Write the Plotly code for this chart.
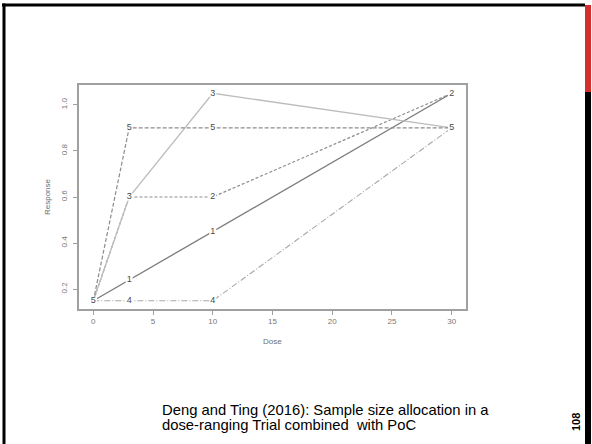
import plotly.graph_objects as go

# --------------------------------------------------
# Daten
# --------------------------------------------------
doses = [0, 3, 10, 30]
series_labels = ["1", "2", "3", "4", "5"]
resp_1 = [0.15, 0.24, 0.45, 1.05]
resp_2 = [0.15, 0.60, 0.60, 1.05]
resp_3 = [0.15, 0.60, 1.05, 0.90]
resp_4 = [0.15, 0.15, 0.15, 0.90]
resp_5 = [0.15, 0.90, 0.90, 0.90]
x_ticks = [0, 5, 10, 15, 20, 25, 30]
y_ticks = [0.2, 0.4, 0.6, 0.8, 1.0]
y_ticklabels = ["0.2", "0.4", "0.6", "0.8", "1.0"]
caption_lines = ["Deng and Ting (2016): Sample size allocation in a",
                 "dose-ranging Trial combined  with PoC"]
page_no = "108"

W, H = 592, 444
FONT = "Liberation Sans, Arial"

fig = go.Figure()

all_resp = [resp_1, resp_2, resp_3, resp_4, resp_5]
styles = [
    dict(color="#7a7a7a", width=1.3, dash="solid"),
    dict(color="#8c8c8c", width=1.2, dash="3px,2px"),
    dict(color="#bdbdbd", width=1.3, dash="solid"),
    dict(color="#a8a8a8", width=1.1, dash="6px,2px,1px,2px"),
    dict(color="#8c8c8c", width=1.2, dash="4px,2px"),
]

# Linien zuerst
for lab, resp, st in zip(series_labels, all_resp, styles):
    fig.add_trace(go.Scatter(
        x=doses, y=resp, mode="lines", name=lab,
        line=st, showlegend=False, hoverinfo="skip",
    ))

# Zahlen als Punktsymbole (wie matplot type="b")
for lab, resp in zip(series_labels, all_resp):
    fig.add_trace(go.Scatter(
        x=doses, y=resp, mode="markers+text",
        text=[lab] * len(doses), textposition="middle center",
        textfont=dict(family=FONT, size=9, color="#4a4a4a"),
        marker=dict(symbol="square", size=7, color="white", line=dict(width=0)),
        showlegend=False, hoverinfo="skip",
    ))

axis_common = dict(
    showline=True, linecolor="#a0a0a0", linewidth=1.5, mirror=True,
    ticks="outside", ticklen=4, tickcolor="#a0a0a0", tickwidth=1,
    showgrid=False, zeroline=False,
    tickfont=dict(family=FONT, size=8, color="#777777"),
)

fig.update_layout(
    width=W, height=H,
    margin=dict(l=0, r=0, t=0, b=0),
    paper_bgcolor="white", plot_bgcolor="white",
    xaxis=dict(
        range=[-1.2, 31.2], tickvals=x_ticks, domain=[79 / W, 466 / W],
        **axis_common,
    ),
    yaxis=dict(
        range=[0.114, 1.086], tickvals=y_ticks, ticktext=y_ticklabels,
        tickangle=-90, domain=[1 - 309 / H, 1 - 85 / H], ticklabelstandoff=3,
        **axis_common,
    ),
)

# Achsentitel
fig.add_annotation(text="Dose", x=272 / W, y=1 - 341 / H, xref="paper", yref="paper",
                   xanchor="center", yanchor="middle", showarrow=False,
                   font=dict(family=FONT, size=8, color="#6e6e6e"))
fig.add_annotation(text="Response", x=47 / W, y=1 - 197 / H, xref="paper", yref="paper",
                   xanchor="center", yanchor="middle", textangle=-90, showarrow=False,
                   font=dict(family=FONT, size=8, color="#6e6e6e"))

# Fußtext und Seitenzahl
for line, yc in zip(caption_lines, [410, 425]):
    fig.add_annotation(text=line, x=160 / W, y=1 - yc / H, xref="paper", yref="paper",
                       xanchor="left", yanchor="middle", align="left", showarrow=False,
                       font=dict(family=FONT, size=14.8, color="black"))
fig.add_annotation(text="<b>" + page_no + "</b>", x=576 / W, y=1 - 422 / H, xref="paper", yref="paper",
                   xanchor="center", yanchor="middle", textangle=-90, showarrow=False,
                   font=dict(family=FONT, size=11, color="black"))

# Folienrahmen (als Rechtecke)
fig.add_shape(type="rect", xref="paper", yref="paper", x0=2 / W, x1=585 / W,
              y0=1 - 6.5 / H, y1=1 - 3.5 / H, fillcolor="black", line=dict(width=0))
fig.add_shape(type="rect", xref="paper", yref="paper", x0=2.5 / W, x1=5.5 / W,
              y0=0, y1=1 - 3.5 / H, fillcolor="black", line=dict(width=0))
fig.add_shape(type="rect", xref="paper", yref="paper", x0=585 / W, x1=591 / W,
              y0=1 - 92 / H, y1=1 - 5 / H, fillcolor="#d32f2f", line=dict(width=0))
fig.add_shape(type="rect", xref="paper", yref="paper", x0=585 / W, x1=591 / W,
              y0=0, y1=1 - 92 / H, fillcolor="black", line=dict(width=0))

# Browser-Standardrand entfernen, damit die Grafik bei (0,0) beginnt
fig.write_html("out.html", config={"displayModeBar": False},
               post_script="document.body.style.margin='0px';")
